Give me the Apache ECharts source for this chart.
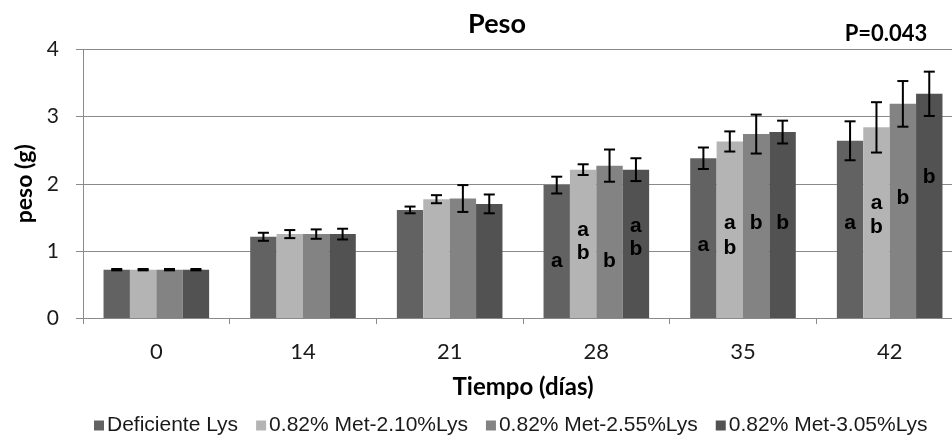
<!DOCTYPE html>
<html>
<head>
<meta charset="utf-8">
<script src="https://cdn.jsdelivr.net/npm/echarts@6/dist/echarts.min.js"></script>
<style>
  html, body { margin: 0; padding: 0; background: #ffffff; }
  #chart { width: 952px; height: 436px; }
</style>
</head>
<body>
<div id="chart"></div>
<script>
// Sampling days
const categories = ['0', '14', '21', '28', '35', '42'];
const yTicks = [0, 1, 2, 3, 4];

// Mean body weight (g) per treatment
const deficienteLys = [0.72, 1.21, 1.61, 1.98, 2.38, 2.64];
const met210Lys     = [0.72, 1.25, 1.77, 2.21, 2.63, 2.84];
const met255Lys     = [0.72, 1.25, 1.78, 2.27, 2.74, 3.19];
const met305Lys     = [0.72, 1.25, 1.70, 2.21, 2.77, 3.34];

// Standard deviation per treatment
const deficienteSd = [0.01, 0.06, 0.05, 0.125, 0.16, 0.29];
const met210Sd     = [0.01, 0.06, 0.06, 0.08, 0.15, 0.375];
const met255Sd     = [0.01, 0.07, 0.20, 0.24, 0.29, 0.34];
const met305Sd     = [0.01, 0.08, 0.14, 0.17, 0.17, 0.33];

// Significance letters: [day index, height on the weight axis, letter]
const deficienteLetters = [[3, 0.84, 'a'], [4, 1.08, 'a'], [5, 1.41, 'a']];
const met210Letters = [[3, 1.31, 'a'], [3, 0.97, 'b'], [4, 1.41, 'a'], [4, 1.04, 'b'], [5, 1.71, 'a'], [5, 1.36, 'b']];
const met255Letters = [[3, 0.84, 'b'], [4, 1.41, 'b'], [5, 1.78, 'b']];
const met305Letters = [[3, 1.37, 'a'], [3, 1.02, 'b'], [4, 1.41, 'b'], [5, 2.10, 'b']];

const seriesNames = ['Deficiente Lys', '0.82% Met-2.10%Lys', '0.82% Met-2.55%Lys', '0.82% Met-3.05%Lys'];
const seriesColors = ['#626262', '#b4b4b4', '#838383', '#525252'];
const means = [deficienteLys, met210Lys, met255Lys, met305Lys];
const sds = [deficienteSd, met210Sd, met255Sd, met305Sd];
const letters = [deficienteLetters, met210Letters, met255Letters, met305Letters];

const BAR_GAP = '0%';
const BAR_CAT_GAP = '28%';
const GRID_COLOR = '#8a8a8a';

function barOffset(api, idx) {
  const layout = api.barLayout({ barGap: BAR_GAP, barCategoryGap: BAR_CAT_GAP, count: means.length });
  return layout[idx].offsetCenter;
}

// Mean ± SD whiskers centred on each bar
function errorBarRenderer(idx) {
  return function (params, api) {
    const cat = api.value(0), mean = api.value(1), sd = api.value(2);
    const off = barOffset(api, idx);
    const hi = api.coord([cat, mean + sd]);
    const lo = api.coord([cat, mean - sd]);
    const x = hi[0] + off;
    const cap = 5.5;
    const style = { stroke: '#000000', lineWidth: 2 };
    return {
      type: 'group',
      children: [
        { type: 'line', shape: { x1: x, y1: hi[1], x2: x, y2: lo[1] }, style: style },
        { type: 'line', shape: { x1: x - cap, y1: hi[1], x2: x + cap, y2: hi[1] }, style: style },
        { type: 'line', shape: { x1: x - cap, y1: lo[1], x2: x + cap, y2: lo[1] }, style: style }
      ]
    };
  };
}

// Significance letters written inside the bars
function letterRenderer(idx) {
  return function (params, api) {
    const cat = api.value(0), h = api.value(1);
    const p = api.coord([cat, h]);
    const off = barOffset(api, idx);
    return {
      type: 'text',
      x: p[0] + off,
      y: p[1],
      style: {
        text: letters[idx][params.dataIndex][2],
        fill: '#000000',
        font: 'bold 21px "Liberation Sans", Arial, sans-serif',
        textAlign: 'center',
        textVerticalAlign: 'middle'
      }
    };
  };
}

const series = [];
means.forEach(function (vals, i) {
  series.push({
    name: seriesNames[i],
    type: 'bar',
    data: vals,
    barGap: BAR_GAP,
    barCategoryGap: BAR_CAT_GAP,
    itemStyle: { color: seriesColors[i] },
    emphasis: { disabled: true },
    z: 2
  });
});
means.forEach(function (vals, i) {
  series.push({
    type: 'custom',
    renderItem: errorBarRenderer(i),
    data: vals.map(function (v, k) { return [k, v, sds[i][k]]; }),
    encode: { x: 0, y: 1 },
    z: 4,
    silent: true
  });
  series.push({
    type: 'custom',
    renderItem: letterRenderer(i),
    data: letters[i].map(function (d) { return [d[0], d[1]]; }),
    encode: { x: 0, y: 1 },
    z: 5,
    silent: true
  });
});

const chart = echarts.init(document.getElementById('chart'), null, { renderer: 'canvas' });
chart.setOption({
  animation: false,
  backgroundColor: '#ffffff',
  title: [
    {
      text: 'Peso',
      left: 492,
      top: 6,
      textAlign: 'center',
      textStyle: { fontFamily: 'Lato', fontWeight: 'bold', fontSize: 27, color: '#000000' }
    },
    {
      text: 'P=0.043',
      left: 881,
      top: 18,
      textAlign: 'center',
      textStyle: { fontFamily: 'Lato', fontWeight: 'bold', fontSize: 22, color: '#000000' }
    }
  ],
  // the plot runs slightly past the right edge of the canvas
  grid: { left: 83, width: 880, top: 49.5, height: 268.5, containLabel: false, outerBoundsMode: 'none' },
  legend: {
    data: seriesNames,
    left: 89,
    top: 410,
    icon: 'rect',
    itemWidth: 10,
    itemHeight: 10,
    itemGap: 18,
    textStyle: { fontFamily: '"Liberation Sans", Arial, sans-serif', fontSize: 21, color: '#1a1a1a', padding: [0, 0, 0, -2] }
  },
  xAxis: {
    type: 'category',
    data: categories,
    name: 'Tiempo (días)',
    nameLocation: 'middle',
    nameGap: 57,
    nameTextStyle: { fontFamily: 'Lato', fontWeight: 'bold', fontSize: 24, color: '#000000' },
    axisLine: { lineStyle: { color: GRID_COLOR, width: 1 } },
    axisTick: { show: true, length: 6, lineStyle: { color: GRID_COLOR } },
    axisLabel: { fontFamily: 'Lato', fontSize: 22, color: '#1a1a1a', margin: 23 }
  },
  yAxis: {
    type: 'value',
    min: yTicks[0],
    max: yTicks[yTicks.length - 1],
    interval: 1,
    name: 'peso (g)',
    nameLocation: 'middle',
    nameGap: 47,
    nameTextStyle: { fontFamily: 'Lato', fontWeight: 'bold', fontSize: 23, color: '#000000' },
    axisLine: { show: true, lineStyle: { color: GRID_COLOR, width: 1 } },
    axisTick: { show: true, length: 7, lineStyle: { color: GRID_COLOR } },
    axisLabel: { fontFamily: 'Lato', fontSize: 21, color: '#1a1a1a', margin: 24 },
    splitLine: { show: true, lineStyle: { color: GRID_COLOR, width: 1.2 } }
  },
  series: series
});
</script>
</body>
</html>
